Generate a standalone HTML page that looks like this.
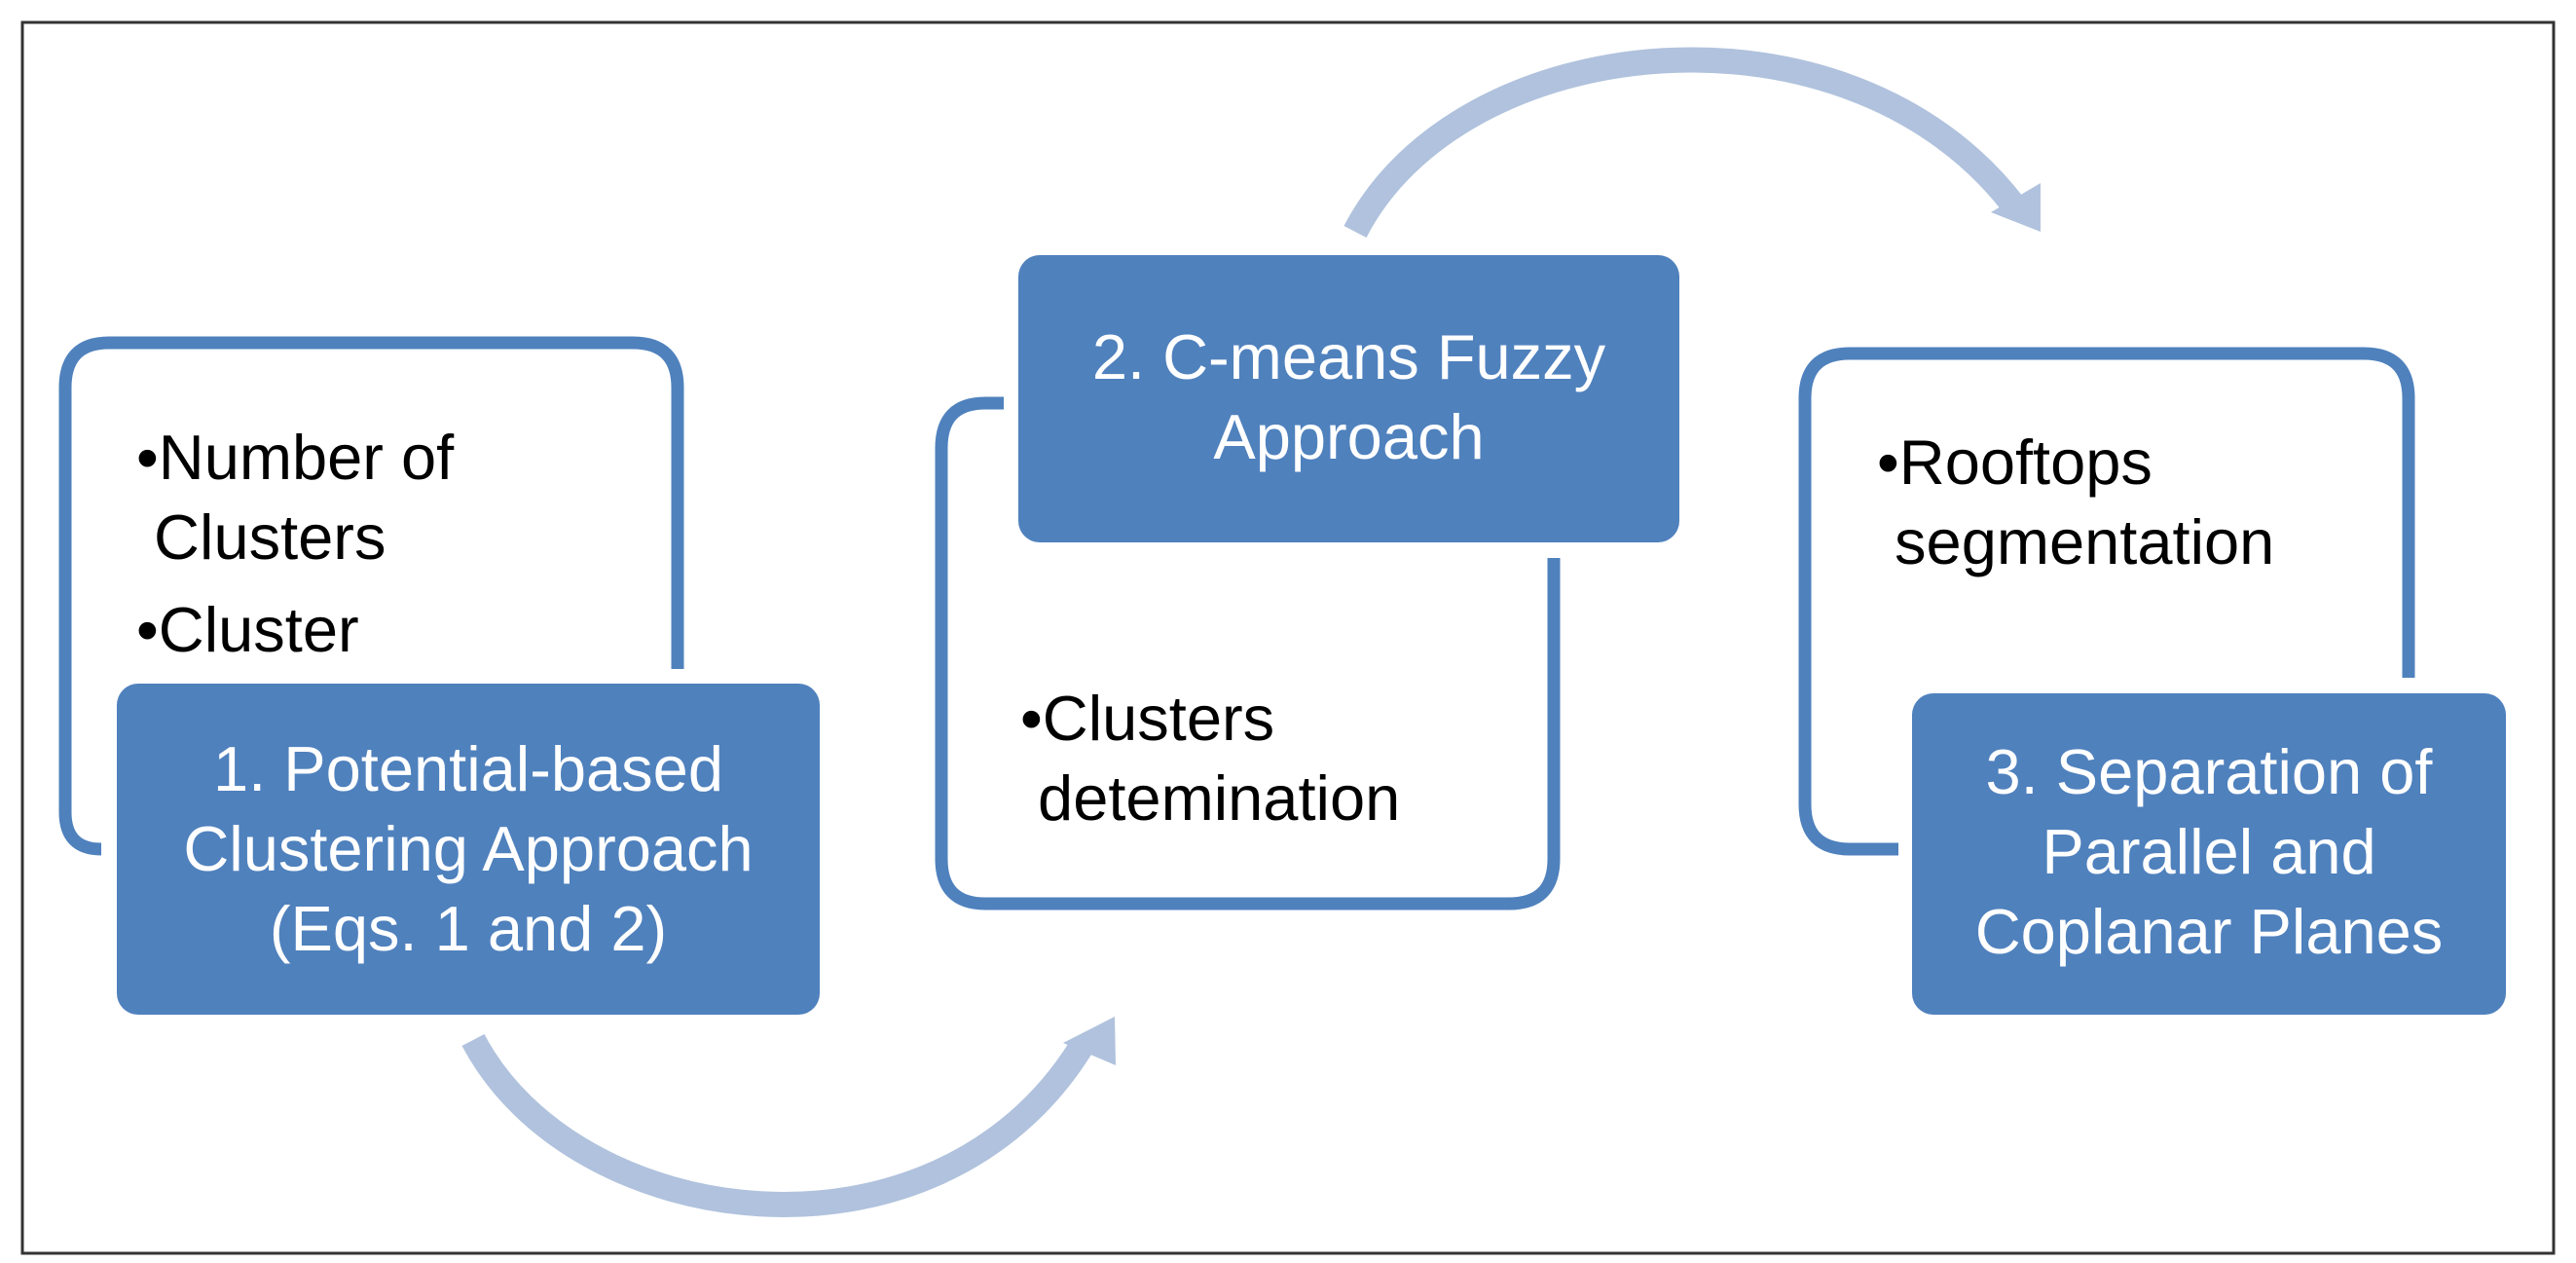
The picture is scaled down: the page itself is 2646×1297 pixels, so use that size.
<!DOCTYPE html>
<html><head><meta charset="utf-8"><style>
html,body{margin:0;padding:0;background:#fff;}
body{width:2646px;height:1297px;position:relative;overflow:hidden;font-family:"Liberation Sans",sans-serif;}
.t{position:absolute;font-size:65px;line-height:82px;white-space:nowrap;}
.w{color:#fff;text-align:center;}
</style></head><body>
<svg width="2646" height="1297" style="position:absolute;left:0;top:0">
<rect x="23" y="23" width="2600" height="1264" fill="none" stroke="#333" stroke-width="3"/>
<path d="M104 872 Q67 872 67 834 V398 Q67 352 112 352 H650 Q696 352 696 398 V687" fill="none" stroke="#4f81bd" stroke-width="13"/>
<path d="M1031 414 H1012 Q967 414 967 460 V882 Q967 928 1012 928 H1550 Q1596 928 1596 882 V573" fill="none" stroke="#4f81bd" stroke-width="13"/>
<path d="M1950 872 H1900 Q1854 872 1854 826 V409 Q1854 363 1900 363 H2428 Q2474 363 2474 409 V696" fill="none" stroke="#4f81bd" stroke-width="13"/>
<rect x="120" y="702" width="722" height="340" rx="22" fill="#4f81bd"/>
<rect x="1046" y="262" width="679" height="295" rx="22" fill="#4f81bd"/>
<rect x="1964" y="712" width="610" height="330" rx="22" fill="#4f81bd"/>
<path d="M486 1068 C590 1266 960 1316 1110 1076" fill="none" stroke="#b0c2dd" stroke-width="26"/>
<polygon points="1145,1044 1146,1094 1092,1071" fill="#b0c2dd"/>
<path d="M1392 238 C1500 28 1900 -12 2070 213" fill="none" stroke="#b0c2dd" stroke-width="26"/>
<polygon points="2096,238 2096,188 2045,218" fill="#b0c2dd"/>
</svg>
<div class="t" style="left:140px;top:429px;">•Number of<br>&nbsp;Clusters</div>
<div class="t" style="left:140px;top:606px;">•Cluster</div>
<div class="t w" style="left:120px;width:722px;top:749px;">1. Potential-based<br>Clustering Approach<br>(Eqs. 1 and 2)</div>
<div class="t w" style="left:1046px;width:679px;top:326px;">2. C-means Fuzzy<br>Approach</div>
<div class="t" style="left:1048px;top:697px;">•Clusters<br>&nbsp;detemination</div>
<div class="t" style="left:1928px;top:434px;">•Rooftops<br>&nbsp;segmentation</div>
<div class="t w" style="left:1964px;width:610px;top:752px;">3. Separation of<br>Parallel and<br>Coplanar Planes</div>
</body></html>
